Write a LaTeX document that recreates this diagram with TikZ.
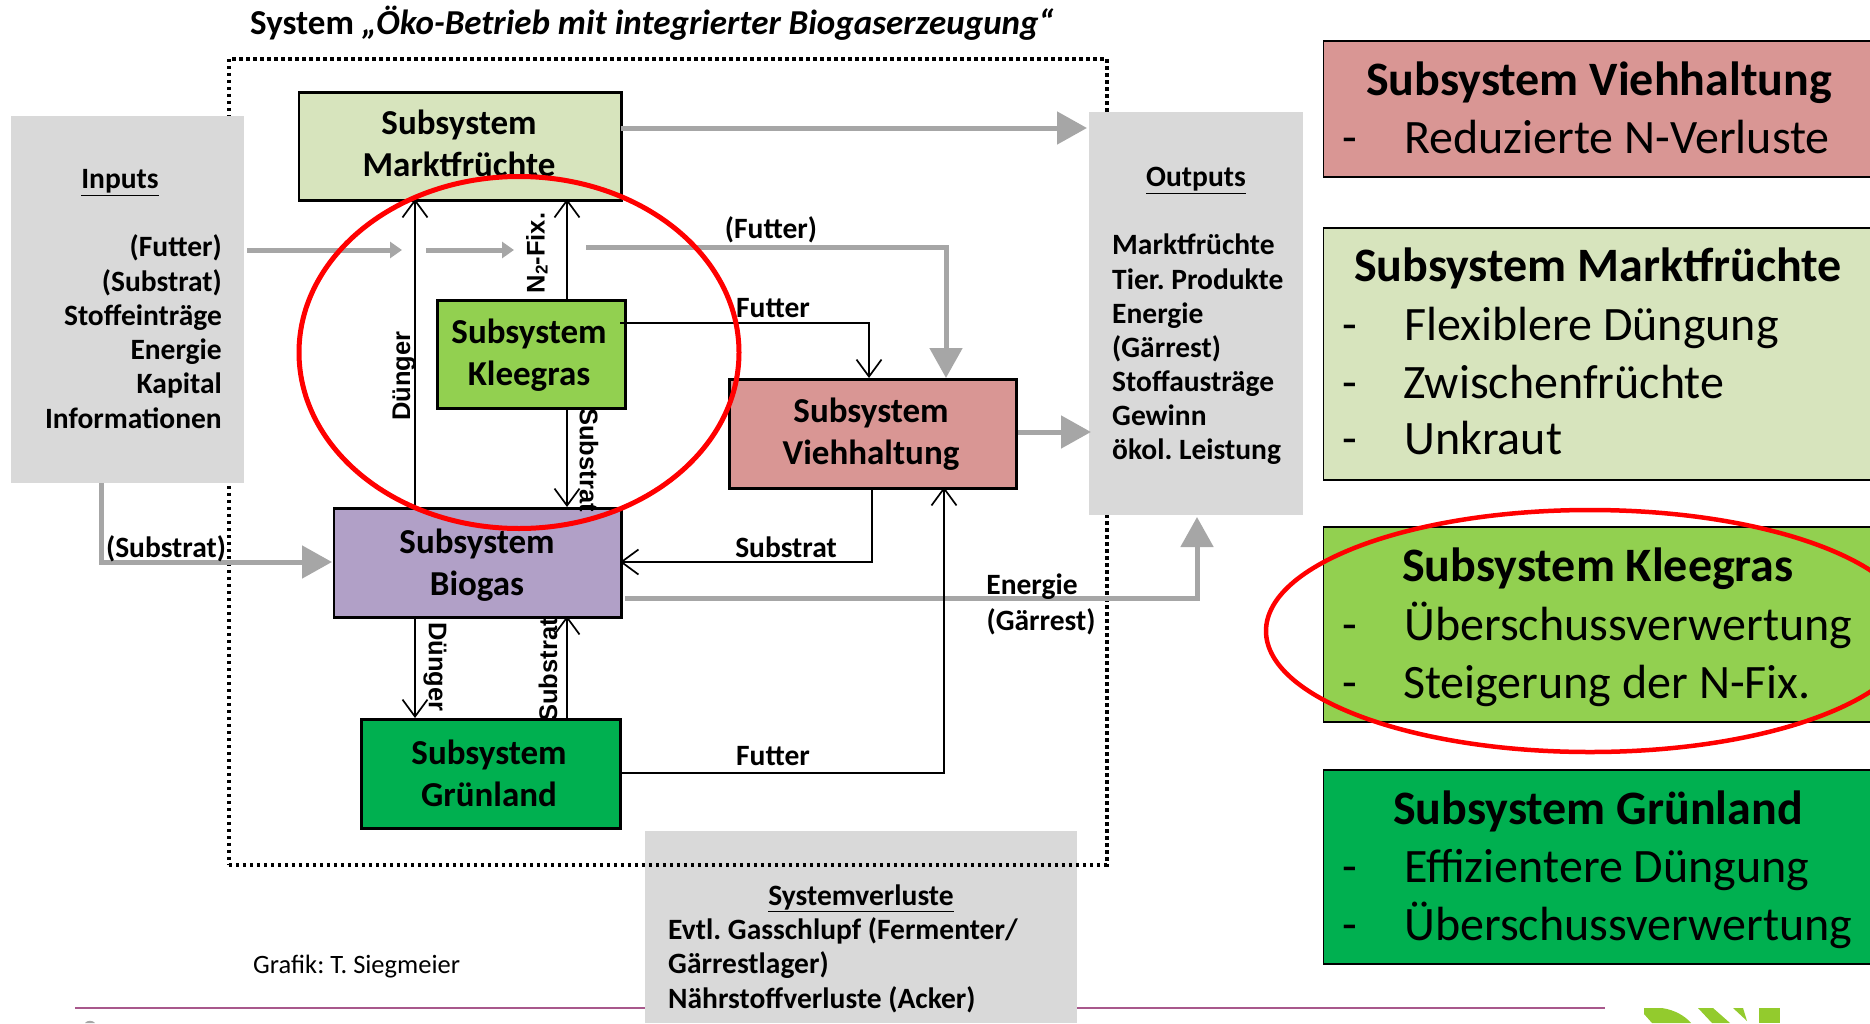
\documentclass[tikz,border=0pt]{standalone}
\usepackage{fontspec}
\setmainfont{Carlito}
\newfontfamily\arialf{Liberation Sans}
\usetikzlibrary{arrows.meta,positioning}
\frenchspacing
\definecolor{cvieh}{HTML}{D99694}
\definecolor{cmarkt}{HTML}{D7E4BD}
\definecolor{cklee}{HTML}{92D050}
\definecolor{cgruen}{HTML}{00B050}
\definecolor{cbio}{HTML}{B1A0C7}
\definecolor{cgrey}{HTML}{D9D9D9}
\definecolor{carrow}{HTML}{A6A6A6}
\definecolor{crule}{HTML}{A8588C}
\definecolor{clogo}{HTML}{93CB2D}
\tikzset{
  x=1pt,y=-1pt,
  subbox/.style={draw=black,line width=2.6pt,inner sep=0pt},
  greybox/.style={fill=cgrey,draw=none,inner sep=0pt},
  sidebox/.style={draw=black,line width=1.5pt,inner sep=0pt},
  blk/.style={draw=black,line width=2.3pt,-{Straight Barb[length=17pt,width=25pt,line width=1.7pt]}},
  gry/.style={draw=carrow,line width=5pt,-{Triangle[length=30pt,width=32pt]}},
  grysm/.style={draw=carrow,line width=5pt,-{Triangle[length=12pt,width=16pt]}},
  lab/.style={font=\bfseries\fontsize{29.5}{29.5}\selectfont,inner sep=0pt,anchor=center,text height=19.5pt,text depth=0pt},
  ltxt/.style={font=\bfseries\fontsize{29.5}{29.5}\selectfont,inner sep=0pt,text height=19.5pt,text depth=0pt},
  otxt/.style={font=\bfseries\fontsize{29.5}{29.5}\selectfont,inner sep=0pt,anchor=west,text height=19.5pt,text depth=0pt},
  rot/.style={font=\arialf\bfseries\fontsize{25.5}{25.5}\selectfont,inner sep=0pt},
  stitle/.style={font=\bfseries\fontsize{48}{48}\selectfont,inner sep=0pt,text height=31pt,text depth=0pt},
  sline/.style={font=\fontsize{48}{48}\selectfont,inner sep=0pt,anchor=west,text height=33pt,text depth=0pt},
  sdash/.style={font=\fontsize{48}{48}\selectfont,inner sep=0pt,text height=33pt,text depth=0pt},
  redring/.style={draw=red,line width=5pt},
  boxt/.style={font=\bfseries\fontsize{35}{35}\selectfont,inner sep=0pt,text height=22pt,text depth=0pt},
}
\newcommand{\boxat}[5]{\node[subbox,fill=#5,minimum width=#3pt,minimum height=#4pt,anchor=north west] (#1) at (#2) {};}
\begin{document}
\begin{tikzpicture}
\useasboundingbox (0,0) rectangle (1870,1023);
% bottom rule and logo fragments
\coordinate (ruleL) at (75,1008);
\coordinate (ruleR) at (1605,1008);
\draw[crule,line width=2.4pt] (ruleL) -- (ruleR);
\fill[gray!70] (85,1023) .. controls (87,1020) and (93,1020) .. (95,1023) -- cycle;
\fill[clogo] (1644,1008) -- (1662,1008) .. controls (1675,1010) and (1685,1016) .. (1691,1023) -- (1652,1023) -- (1644,1014) -- cycle;
\fill[clogo] (1698,1008) -- (1713,1008) -- (1730,1023) -- (1712,1023) -- cycle;
\fill[clogo] (1733,1008) -- (1743,1008) -- (1747,1021) -- cycle;
\fill[clogo] (1759,1008) -- (1780,1008) -- (1780,1023) -- (1759,1023) -- cycle;
% Systemverluste grey box first (the dotted frame runs over it)
\node[greybox,minimum width=432pt,minimum height=192pt,anchor=north west] (loss) at (645,831) {};
\node[lab] (lossT) at (861,895.5) {\underline{Systemverluste}};
\node[otxt] (loss1) at (668,930) {Evtl. Gasschlupf (Fermenter/};
\node[otxt] (loss2) at (668,963.5) {Gärrestlager)};
\node[otxt] (loss3) at (668,998.5) {Nährstoffverluste (Acker)};
% dotted system frame
\node[draw=black,line width=3.5pt,dash pattern=on 3.5pt off 3.5pt,minimum width=878pt,minimum height=806pt,anchor=north west,inner sep=0pt] (frame) at (227,57) {};
\node[font=\bfseries\fontsize{35}{35}\selectfont,inner sep=0pt,anchor=west,text height=22pt,text depth=0pt] (title) at (250,23) {System \itshape „Öko-Betrieb mit integrierter Biogaserzeugung“};
% grey side boxes
\node[greybox,minimum width=233pt,minimum height=367pt,anchor=north west] (inputs) at (11,116) {};
\node[greybox,minimum width=214pt,minimum height=403pt,anchor=north west] (outputs) at (1089,112) {};
\node[lab] (inT) at (120,179) {\underline{Inputs}};
\foreach \n/\y/\t in {a/247/(Futter),b/282/(Substrat),c/316/Stoffeinträge,d/350/Energie,e/384/Kapital,f/419/Informationen}
  \node[ltxt,anchor=east] (in\n) at (222,\y) {\t};
\node[lab] (outT) at (1196,177) {\underline{Outputs}};
\foreach \n/\y/\t in {a/245/Marktfrüchte,b/280/Tier. Produkte,c/314/Energie,d/348/(Gärrest),e/382/Stoffausträge,f/416/Gewinn,g/450/ökol. Leistung}
  \node[otxt] (out\n) at (1112,\y) {\t};
% subsystem boxes
\boxat{markt}{297.5,91}{322.5}{108}{cmarkt}
\boxat{klee}{436,299}{188}{108}{cklee}
\boxat{vieh}{728,378}{287}{109}{cvieh}
\boxat{bio}{332.5,507}{287.5}{109}{cbio}
\boxat{gruen}{360,718}{259}{109}{cgruen}
\node[boxt] (markt1) at (459,123) {Subsystem};
\node[boxt] (markt2) at (459,165.5) {Marktfrüchte};
\node[boxt] (klee1) at (529,332) {Subsystem};
\node[boxt] (klee2) at (529,374.5) {Kleegras};
\node[boxt] (vieh1) at (871,411) {Subsystem};
\node[boxt] (vieh2) at (871,453) {Viehhaltung};
\node[boxt] (bio1) at (477,542) {Subsystem};
\node[boxt] (bio2) at (477,584) {Biogas};
\node[boxt] (gruen1) at (489,753) {Subsystem};
\node[boxt] (gruen2) at (489,795) {Grünland};
% grey flows
\coordinate (f1a) at (247,250); \coordinate (f1b) at (402,250);
\coordinate (f2a) at (426,250); \coordinate (f2b) at (514,250);
\coordinate (f3a) at (586,247); \coordinate (f3b) at (946,247);
\coordinate (v3) at (946,378);
\draw[grysm] (f1a) -- (f1b);
\draw[grysm] (f2a) -- (f2b);
\draw[gry] (f3a) -- (f3b) -- (v3);
\coordinate (m1) at (621,128); \coordinate (o1) at (1087,128);
\draw[gry] (m1) -- (o1);
\coordinate (v1) at (1018,432); \coordinate (o2) at (1091,432);
\draw[gry] (v1) -- (o2);
\coordinate (i1) at (101,483); \coordinate (i2) at (101,562); \coordinate (b1) at (332,562);
\draw[gry] (i1) -- (i2) -- (b1);
\coordinate (b2) at (625,598); \coordinate (b3) at (1197,598); \coordinate (o3) at (1197,517);
\draw[gry] (b2) -- (b3) -- (o3);
% black flows
\coordinate (duTop) at (415,199); \coordinate (duBot) at (415,507);
\draw[blk] (duBot) -- (duTop);
\coordinate (nTop) at (567,199); \coordinate (nBot) at (567,299);
\draw[blk] (nBot) -- (nTop);
\coordinate (sTop) at (567,407); \coordinate (sBot) at (567,507);
\draw[blk] (sTop) -- (sBot);
\coordinate (k1) at (620,323); \coordinate (k2) at (869,323); \coordinate (k3) at (869,378);
\draw[blk] (k1) -- (k2) -- (k3);
\coordinate (s1) at (872,487); \coordinate (s2) at (872,562); \coordinate (s3) at (620,562);
\draw[blk] (s1) -- (s2) -- (s3);
\coordinate (g1) at (619,773); \coordinate (g2) at (944,773); \coordinate (g3) at (944,487);
\draw[blk] (g1) -- (g2) -- (g3);
\coordinate (d1) at (415,616); \coordinate (d2) at (415,718);
\draw[blk] (d1) -- (d2);
\coordinate (u1) at (567,718); \coordinate (u2) at (567,616);
\draw[blk] (u1) -- (u2);
% flow labels
\node[lab] (l1) at (771,229) {(Futter)};
\node[lab] (l2) at (773,308) {Futter};
\node[lab] (l3) at (786,548) {Substrat};
\node[lab] (l4) at (773,756) {Futter};
\node[lab] (l5) at (1032,585) {Energie};
\node[lab] (l6) at (1041,621) {(Gärrest)};
\node[lab] (l7) at (166,548) {(Substrat)};
\node[rot,rotate=90] (r1) at (404,376) {Dünger};
\node[rot,rotate=90] (r2) at (537,253) {N\raisebox{-3pt}{\fontsize{17}{17}\selectfont 2}-Fix.};
\node[rot,rotate=-90] (r3) at (589,460) {Substrat};
\node[rot,rotate=-90] (r4) at (435,667) {Dünger};
\node[rot,rotate=90] (r5) at (548,670) {Substrat};
\node[inner sep=0pt,anchor=west,font=\fontsize{26.5}{26.5}\selectfont] (graf) at (253,967) {Grafik: T. Siegmeier};
% right-hand panels
\node[sidebox,fill=cvieh,minimum width=560pt,minimum height=136pt,anchor=north west] (pv) at (1322.5,40) {};
\node[sidebox,fill=cmarkt,minimum width=560pt,minimum height=252pt,anchor=north west] (pm) at (1322.5,227) {};
\node[sidebox,fill=cklee,minimum width=560pt,minimum height=195pt,anchor=north west] (pk) at (1322.5,526) {};
\node[sidebox,fill=cgruen,minimum width=560pt,minimum height=194pt,anchor=north west] (pg) at (1322.5,769) {};
\node[stitle] (pvt) at (1599,80) {Subsystem Viehhaltung};
\node[sdash] (pvd) at (1350,137) {-};
\node[sline] (pv1) at (1404,137) {Reduzierte N-Verluste};
\node[stitle] (pmt) at (1598,266) {Subsystem Marktfrüchte};
\node[sdash] (pmd1) at (1350,324) {-};
\node[sline] (pm1) at (1404,324) {Flexiblere Düngung};
\node[sdash] (pmd2) at (1350,382) {-};
\node[sline] (pm2) at (1403,382) {Zwischenfrüchte};
\node[sdash] (pmd3) at (1350,438) {-};
\node[sline] (pm3) at (1404,438) {Unkraut};
\node[stitle] (pkt) at (1598,566) {Subsystem Kleegras};
\node[sdash] (pkd1) at (1350,624) {-};
\node[sline] (pk1) at (1404,624) {Überschussverwertung};
\node[sdash] (pkd2) at (1350,682) {-};
\node[sline] (pk2) at (1403,682) {Steigerung der N-Fix.};
\node[stitle] (pgt) at (1598,809) {Subsystem Grünland};
\node[sdash] (pgd1) at (1350,866) {-};
\node[sline] (pg1) at (1404,866) {Effizientere Düngung};
\node[sdash] (pgd2) at (1350,924) {-};
\node[sline] (pg2) at (1404,924) {Überschussverwertung};
% red rings
\draw[redring] (519,352.5) ellipse [x radius=220,y radius=176];
\draw[redring,line width=4.5pt] (1590,631) ellipse [x radius=324,y radius=121];
\end{tikzpicture}
\end{document}
